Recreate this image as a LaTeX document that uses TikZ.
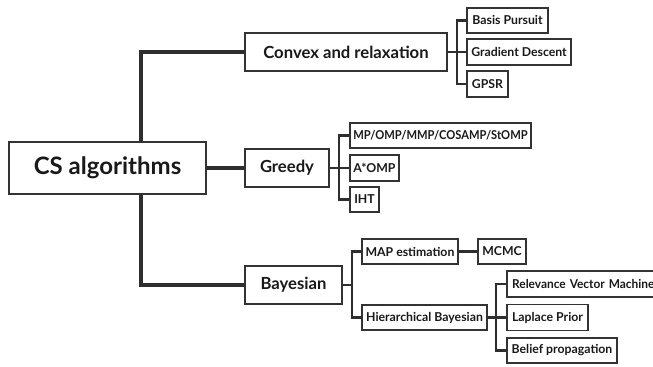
\documentclass[tikz,border=0pt]{standalone}
\usepackage{fontspec}
\setmainfont{Lato}
\begin{document}
\begin{tikzpicture}[x=0.75pt,y=-0.75pt,
  box/.style={draw=black!80, line width=1.3pt, fill=white, inner sep=0pt, font=\bfseries, text=black!90},
  big/.style={box, font=\bfseries\fontsize{18}{20}\selectfont},
  mid/.style={box, font=\bfseries\fontsize{12.5}{14}\selectfont},
  small/.style={box, font=\bfseries\fontsize{9.2}{10}\selectfont},
  trunk/.style={draw=black!82, line width=2.4pt},
  twig/.style={draw=black!82, line width=1.8pt}]
\useasboundingbox (0,0) rectangle (653,367);
\coordinate (tx) at (141,168);
\coordinate (cb) at (457,52);
\coordinate (gb) at (339,168);
\coordinate (bb) at (352,285);
\coordinate (hbb) at (496,317.5);
\node[big, minimum width=148pt, minimum height=39pt] (root) at (107.5,168) {CS algorithms};
\node[mid, minimum width=151.5pt, minimum height=28.5pt] (convex) at (346,52) {Convex and relaxation};
\node[mid, minimum width=63pt, minimum height=28pt] (greedy) at (287,168) {Greedy};
\node[mid, minimum width=72.75pt, minimum height=28pt] (bayes) at (293.5,285) {Bayesian};
\node[small, minimum width=60.75pt, minimum height=19pt] (bp) at (507.5,20.5) {Basis Pursuit};
\node[small, minimum width=78pt, minimum height=19pt] (gd) at (519,52) {Gradient Descent};
\node[small, minimum width=30.75pt, minimum height=19.5pt] (gpsr) at (487.5,84) {GPSR};
\node[small, minimum width=135.75pt, minimum height=19pt] (mp) at (440.5,135.5) {\scalebox{0.91}[1]{MP/OMP/MMP/COSAMP/StOMP}};
\node[small, minimum width=36.75pt, minimum height=19.5pt] (aomp) at (374.5,168) {A*OMP};
\node[small, minimum width=21.75pt, minimum height=19pt] (iht) at (364.5,199.5) {IHT};
\node[small, minimum width=72pt, minimum height=19pt] (map) at (410,251.5) {MAP estimation};
\node[small, minimum width=36pt, minimum height=19pt] (mcmc) at (502,251.5) {MCMC};
\node[small, minimum width=93.75pt, minimum height=19pt] (hb) at (424.5,317.5) {Hierarchical Bayesian};
\node[small, minimum width=114.75pt, minimum height=19.5pt, text width=110pt, align=left] (rvm) at (583.5,284) {\hspace*{1.5pt}\scalebox{0.97}[1]{Relevance Vector Machine}};
\node[small, minimum width=60.75pt, minimum height=19.5pt] (lp) at (547.5,317.5) {Laplace Prior};
\node[small, minimum width=82.5pt, minimum height=19pt] (bel) at (562,350.5) {Belief propagation};
\draw[trunk] (convex.west) -| (tx |- root.north);
\draw[trunk] (bayes.west) -| (tx |- root.south);
\draw[trunk] (root.east) -- (greedy.west);
\draw[twig] (convex.east) -- (cb);
\draw[twig] (bp.west) -| (cb) |- (gpsr.west);
\draw[twig] (cb) -- (gd.west);
\draw[twig] (greedy.east) -- (aomp.west);
\draw[twig] (mp.west) -| (gb) |- (iht.west);
\draw[twig] (bayes.east) -- (bb);
\draw[twig] (map.west) -| (bb) |- (hb.west);
\draw[twig] (map.east) -- (mcmc.west);
\draw[twig] (hb.east) -- (lp.west);
\draw[twig] (rvm.west) -| (hbb) |- (bel.west);
\end{tikzpicture}
\end{document}
